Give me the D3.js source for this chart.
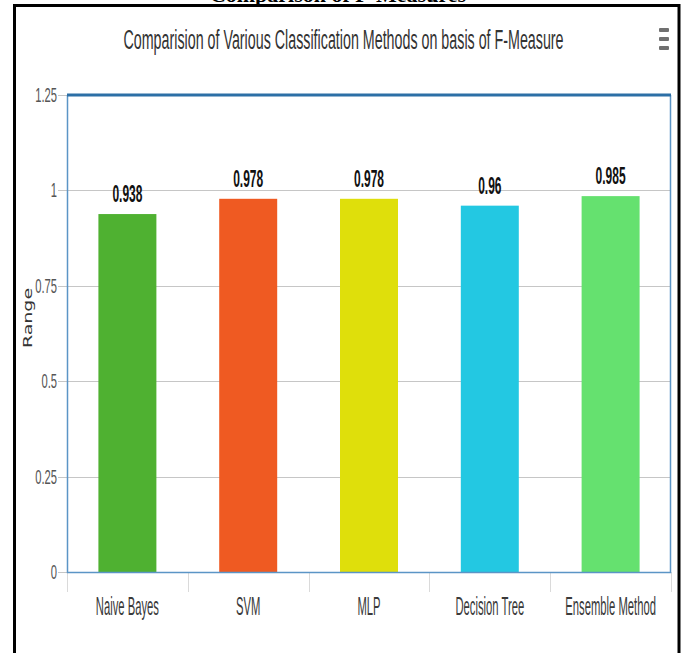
<!DOCTYPE html>
<html>
<head>
<meta charset="utf-8">
<script src="https://cdn.jsdelivr.net/npm/d3@7"></script>
<style>
  html, body { margin: 0; padding: 0; background: #fff; }
  svg { display: block; }
</style>
</head>
<body>
<svg id="chart" width="686" height="653"></svg>
<script>
// Classification methods compared on F-Measure
const categories = ["Naive Bayes", "SVM", "MLP", "Decision Tree", "Ensemble Method"];
const fMeasure = [0.938, 0.978, 0.978, 0.96, 0.985];
const barColors = ["#4fb131", "#ef5a22", "#dfdf0b", "#23c8e2", "#65e16f"];
const yTicks = [0, 0.25, 0.5, 0.75, 1, 1.25];
const yTickLabels = ["0", "0.25", "0.5", "0.75", "1", "1.25"];

const svg = d3.select("#chart");
const W = 686, H = 653;
const plot = { left: 67, right: 671, top: 95, bottom: 572 };

// Helper: horizontally condensed text
function condensedText(g, x, y, str, opts) {
  return g.append("text")
    .attr("transform", `translate(${x},${y}) scale(${opts.sx},1)`)
    .attr("text-anchor", opts.anchor || "middle")
    .attr("font-family", opts.family || "'Liberation Sans', Arial, sans-serif")
    .attr("font-size", opts.size)
    .attr("font-weight", opts.weight || "normal")
    .attr("fill", opts.fill || "#333")
    .text(str);
}

// Page background
svg.append("rect").attr("x", 0).attr("y", 0).attr("width", W).attr("height", H).attr("fill", "#fff");

// Caption above the framed figure (runs off the top of the page)
svg.append("text")
  .attr("x", 338).attr("y", 1.5)
  .attr("text-anchor", "middle")
  .attr("font-family", "'Liberation Serif', 'Times New Roman', serif")
  .attr("font-weight", "bold")
  .attr("font-size", 22)
  .attr("fill", "#000")
  .text("Comparison of F-Measures");

// Black frame around the figure
svg.append("rect")
  .attr("x", 14.5).attr("y", 5.5).attr("width", 664.5).attr("height", 660)
  .attr("fill", "#fff").attr("stroke", "#000").attr("stroke-width", 3);

const x = d3.scaleBand()
  .domain(categories)
  .range([plot.left, plot.right])
  .paddingInner(0.52)
  .paddingOuter(0.26);

const y = d3.scaleLinear().domain([0, 1.25]).range([plot.bottom, plot.top]);

// Title
condensedText(svg, 343.5, 49, "Comparision of Various Classification Methods on basis of F-Measure",
  { size: 28, fill: "#333", sx: 0.51 });

// Menu icon
const menu = svg.append("g").attr("fill", "#707070");
[28, 37, 46].forEach(yy => {
  menu.append("rect").attr("x", 659).attr("y", yy).attr("width", 10).attr("height", 4).attr("rx", 1);
});

// Gridlines
svg.append("g").selectAll("line")
  .data(yTicks.filter(v => v > 0 && v < 1.25))
  .join("line")
  .attr("x1", plot.left - 9).attr("x2", plot.right)
  .attr("y1", d => Math.round(y(d)) + 0.5).attr("y2", d => Math.round(y(d)) + 0.5)
  .attr("stroke", "#c6c6c6").attr("stroke-width", 1);

// Y tick marks at the ends of the axis
[0, 1.25].forEach(v => {
  svg.append("line")
    .attr("x1", plot.left - 9).attr("x2", plot.left)
    .attr("y1", Math.round(y(v)) + 0.5).attr("y2", Math.round(y(v)) + 0.5)
    .attr("stroke", "#c6c6c6");
});

// Y axis labels
const yAxisG = svg.append("g");
yTicks.forEach((v, i) => {
  condensedText(yAxisG, plot.left - 10, y(v) + 7, yTickLabels[i],
    { size: 20, anchor: "end", fill: "#555", sx: 0.56 });
});

// Y axis title
svg.append("text")
  .attr("transform", "translate(32,318) scale(0.62,1) rotate(-90)")
  .attr("text-anchor", "middle")
  .attr("font-family", "'DejaVu Sans', Verdana, sans-serif")
  .attr("font-size", 19)
  .attr("fill", "#333")
  .text("Range");

// X category boundary ticks
const bounds = categories.map(c => x(c) - x.step() * x.paddingOuter()).concat([plot.right]);
svg.append("g").selectAll("line")
  .data(bounds)
  .join("line")
  .attr("x1", d => Math.round(d) + 0.5).attr("x2", d => Math.round(d) + 0.5)
  .attr("y1", plot.bottom).attr("y2", plot.bottom + 20)
  .attr("stroke", "#dadada");

// Bars
svg.append("g").selectAll("rect")
  .data(fMeasure)
  .join("rect")
  .attr("x", (d, i) => x(categories[i]))
  .attr("y", d => y(d))
  .attr("width", x.bandwidth())
  .attr("height", d => y(0) - y(d))
  .attr("fill", (d, i) => barColors[i]);

// Value labels
const valG = svg.append("g");
fMeasure.forEach((v, i) => {
  condensedText(valG, x(categories[i]) + x.bandwidth() / 2, y(v) - 12, String(v),
    { size: 24, weight: "bold", fill: "#111", sx: 0.5 });
});

// X category labels
const catG = svg.append("g");
categories.forEach(c => {
  condensedText(catG, x(c) + x.bandwidth() / 2, 615, c,
    { size: 25, fill: "#3a3a3a", sx: 0.45 });
});

// Plot border: thin sides and bottom, heavy top edge
const border = svg.append("g").attr("fill", "none");
border.append("path")
  .attr("d", `M${plot.left + 0.5},${plot.top} V${plot.bottom + 0.5} H${plot.right - 0.5} V${plot.top}`)
  .attr("stroke", "#5b95c6").attr("stroke-width", 1.5);
border.append("line")
  .attr("x1", plot.left).attr("x2", plot.right)
  .attr("y1", plot.top).attr("y2", plot.top)
  .attr("stroke", "#2c6fa6").attr("stroke-width", 3);
</script>
</body>
</html>
